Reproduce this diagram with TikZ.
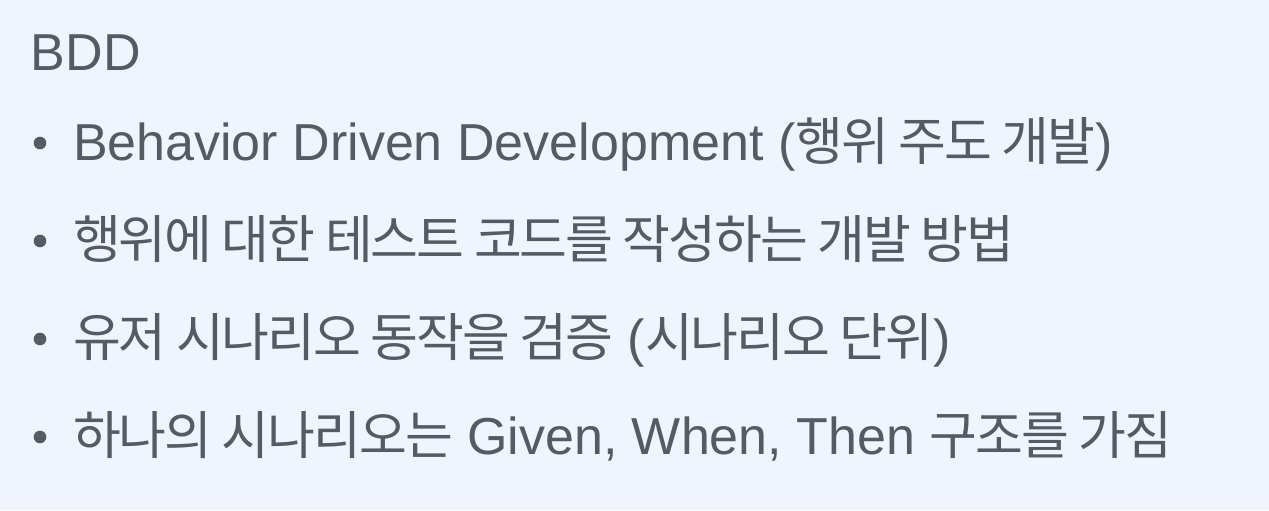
\documentclass[tikz,border=0pt]{standalone}
\usepackage{fontspec}
\setmainfont{Liberation Sans}
\newfontfamily\kofont[LetterSpace=-4]{Noto Sans CJK KR}
\newcommand{\ko}[1]{{\kofont #1}}
\definecolor{slidebg}{RGB}{240,244,254}
\definecolor{slidetext}{RGB}{86,90,100}
\tikzset{
    every node/.style={inner sep=0, outer sep=0, text=slidetext},
    line/.style={anchor=base west, font=\fontsize{39}{47}\selectfont},
    dot/.style={circle, fill=slidetext, minimum size=9.5pt}
}

\begin{document}
\begin{tikzpicture}[x=0.75pt, y=-0.75pt]
  \fill[slidebg] (0,0) rectangle (1269,510);
  \useasboundingbox (0,0) rectangle (1269,510);

  \node (title) [line] at (31, 70) {BDD};

  \node (dot1) [dot] at (40, 143) {};
  \node (dot2) [dot] at (40, 241) {};
  \node (dot3) [dot] at (40, 339) {};
  \node (dot4) [dot] at (40, 437) {};

  \node (b1) [line] at (73, 160) {Behavior Driven Development (\ko{행위 주도 개발})};
  \node (b2) [line] at (73, 258) {\ko{행위에 대한 테스트 코드를 작성하는 개발 방법}};
  \node (b3) [line] at (73, 356) {\ko{유저 시나리오 동작을 검증} (\ko{시나리오 단위})};
  \node (b4) [line] at (73, 454) {\ko{하나의 시나리오는} Given, When, Then \ko{구조를 가짐}};
\end{tikzpicture}
\end{document}
